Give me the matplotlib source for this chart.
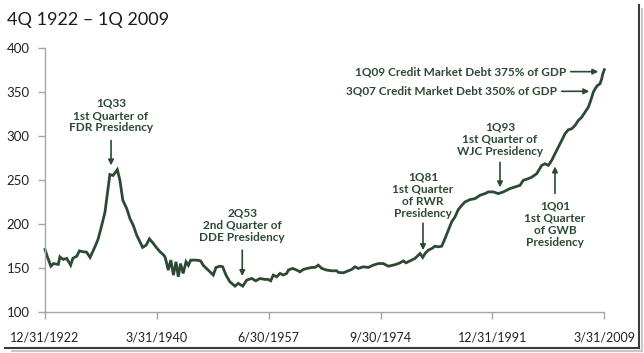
import matplotlib
matplotlib.use("Agg")
import matplotlib.pyplot as plt
from matplotlib.lines import Line2D

plt.rcParams["font.family"] = ["Lato", "DejaVu Sans"]

# quarterly credit market debt as % of GDP
years = [1923.0, 1923.35, 1923.9, 1924.3, 1925.05, 1925.3, 1925.8, 1926.35, 1926.95, 1927.3,
         1927.9, 1928.3, 1928.9, 1929.4, 1929.95, 1930.7, 1931.2, 1931.75, 1932.25, 1932.75,
         1933.0, 1933.5, 1934.15, 1934.55, 1935.0, 1935.6, 1936.1, 1936.6, 1937.15, 1937.65,
         1938.05, 1938.6, 1939.1, 1939.7, 1940.2, 1940.75, 1941.25, 1941.5, 1941.77, 1942.0,
         1942.4, 1942.8, 1943.2, 1943.55, 1943.9, 1944.3, 1944.75, 1945.1, 1945.47, 1946.4,
         1947.0, 1947.4, 1947.9, 1948.45, 1948.95, 1949.37, 1950.0, 1950.4, 1950.9, 1951.5,
         1952.3, 1952.8, 1953.5, 1954.1, 1954.87, 1955.5, 1956.15, 1956.9, 1957.4, 1957.8,
         1958.2, 1958.73, 1959.24, 1959.75, 1960.27, 1960.52, 1961.2, 1961.81, 1962.32, 1962.83,
         1963.45, 1964.13, 1964.63, 1965.14, 1965.67, 1966.44, 1967.21, 1967.98, 1968.23, 1969.0,
         1969.77, 1970.29, 1970.8, 1971.31, 1972.08, 1972.85, 1973.62, 1974.4, 1975.17, 1975.94,
         1976.71, 1977.23, 1977.74, 1978.25, 1978.67, 1979.28, 1980.05, 1980.56, 1980.83, 1981.24,
         1981.6, 1982.1, 1982.63, 1983.14, 1983.65, 1984.17, 1984.68, 1985.19, 1985.71, 1986.22,
         1986.73, 1987.26, 1987.76, 1988.54, 1989.31, 1990.08, 1990.85, 1991.36, 1992.13, 1992.9,
         1993.67, 1994.2, 1994.7, 1995.47, 1996.25, 1996.76, 1997.53, 1998.05, 1998.82, 1999.59,
         2000.1, 2000.61, 2001.13, 2001.64, 2002.15, 2002.68, 2003.18, 2003.69, 2004.22, 2004.73,
         2005.24, 2005.76, 2006.27, 2006.78, 2007.15, 2007.55, 2007.81, 2008.17, 2008.58, 2008.84,
         2009.0, 2009.25]
debt_pct = [171, 163, 152, 155, 154, 162.6, 159.7, 160.8, 153.2, 161,
            163.4, 169.4, 168.3, 168, 162, 174, 183, 198.5, 213.6, 242,
            256, 255, 261.6, 249.5, 226.8, 217.4, 206, 198.5, 187, 179.6,
            173.3, 175.9, 183, 177.8, 173, 168.3, 165, 162.6, 155, 147.6,
            158.9, 141.9, 157, 140, 155, 143.8, 157, 153, 158.9, 158.9,
            158, 153, 149.5, 145.6, 142, 150.6, 152, 151.3, 142, 134.3,
            129.4, 132.5, 129.4, 136.2, 138.1, 135.4, 138, 137, 137, 135.4,
            141.9, 140, 143.8, 142, 143.8, 147.6, 149.5, 147.6, 145.6, 148.3,
            149.5, 150.6, 150.6, 153.2, 149.5, 147.6, 146.8, 146.8, 145, 144.5,
            146.8, 148.3, 151.3, 149.5, 151.3, 150.6, 153.2, 155, 155, 152,
            153.2, 154.3, 155.8, 158, 155.8, 158, 160.8, 164.5, 166.4, 162,
            166.4, 170.2, 172, 174.7, 174, 174.7, 183.4, 192.9, 202.3, 208,
            216.3, 221, 224.9, 227.6, 228.7, 232.5, 234.4, 236.3, 236.3, 234.4,
            236.3, 238.2, 240.1, 242, 243.8, 249.5, 251.4, 253, 257, 266.4,
            268.3, 266.4, 272, 279.7, 287, 294.7, 302.3, 306.8, 308, 311.7,
            317.4, 321.1, 326.8, 332.5, 340, 349.5, 353.2, 357, 359, 364.6,
            370, 375]

tick_years = [1923.0, 1940.25, 1957.5, 1974.75, 1992.0, 2009.25]
tick_labels = ["12/31/1922", "3/31/1940", "6/30/1957", "9/30/1974", "12/31/1991", "3/31/2009"]
y_ticks = [100, 150, 200, 250, 300, 350, 400]

green = "#2c4a33"
ann_color = "#2c4a33"
spine_gray = "#a6a6a6"

fig = plt.figure(figsize=(6.44, 3.53), dpi=100)
ax = fig.add_axes([0.0699, 0.1161, 0.8685, 0.7488])

ax.plot(years, debt_pct, color=green, lw=2.0, clip_on=False, solid_joinstyle="miter")

ax.set_xlim(tick_years[0], tick_years[-1])
ax.set_ylim(100, 400)
ax.set_xticks(tick_years)
ax.set_xticklabels(tick_labels)
ax.set_yticks(y_ticks)

for s in ["top", "right"]:
    ax.spines[s].set_visible(False)
for s in ["left", "bottom"]:
    ax.spines[s].set_color(spine_gray)
    ax.spines[s].set_linewidth(1.0)
ax.tick_params(axis="both", colors=spine_gray, length=5, width=1.0, labelcolor="#222222",
               labelsize=9)
ax.tick_params(axis="x", pad=9)
ax.tick_params(axis="y", pad=6, labelsize=9.5)

fig.text(0.011, 0.930, "4Q 1922 \u2013 1Q 2009", fontsize=13, color="#1a1a1a", ha="left", va="baseline")

txt = dict(color=ann_color, fontsize=8.5, fontweight="bold", ha="center", va="center",
           linespacing=1.15)
arrow = dict(arrowstyle="-|>", color=ann_color, lw=1.2, mutation_scale=8, shrinkA=0, shrinkB=0)

# (label, text x, text y, arrow tail, arrow head)
notes = [
    ("1Q33\n1st Quarter of\nFDR Presidency", 1933.18, 323, (1933.18, 294.7), (1933.18, 266.4)),
    ("2Q53\n2nd Quarter of\nDDE Presidency", 1953.42, 198.5, (1953.42, 170.2), (1953.42, 140.8)),
    ("1Q81\n1st Quarter\nof RWR\nPresidency", 1981.29, 232.7, (1981.29, 200.8), (1981.29, 170.2)),
    ("1Q93\n1st Quarter of\nWJC Presidency", 1993.16, 295.9, (1993.16, 269.8), (1993.16, 241.5)),
    ("1Q01\n1st Quarter\nof GWB\nPresidency", 2001.64, 199.6, (2001.64, 234.7), (2001.64, 265.3)),
]
for label, tx, ty, tail, head in notes:
    ax.text(tx, ty, label, **txt)
    ax.annotate("", xy=head, xytext=tail, arrowprops=arrow, annotation_clip=False)

side = dict(txt, ha="right")
ax.text(2003.45, 372.8, "1Q09 Credit Market Debt 375% of GDP", **side)
ax.annotate("", xy=(2008.32, 372.8), xytext=(2004.07, 372.8), arrowprops=arrow, annotation_clip=False)
ax.text(2002.0, 350.5, "3Q07 Credit Market Debt 350% of GDP", **side)
ax.annotate("", xy=(2006.93, 350.5), xytext=(2002.68, 350.5), arrowprops=arrow, annotation_clip=False)

# screenshot frame shadow on right and bottom
fig.add_artist(Line2D([0.992, 0.992], [0.015, 0.985], transform=fig.transFigure, color="#3a3a3a", lw=1.5))
fig.add_artist(Line2D([0.008, 0.992], [0.015, 0.015], transform=fig.transFigure, color="#3a3a3a", lw=1.5))
fig.add_artist(Line2D([0.997, 0.997], [0.005, 0.975], transform=fig.transFigure, color="#c8c8c8", lw=1.5))
fig.add_artist(Line2D([0.018, 0.997], [0.005, 0.005], transform=fig.transFigure, color="#c8c8c8", lw=1.5))

fig.savefig("out.png", dpi=100)
